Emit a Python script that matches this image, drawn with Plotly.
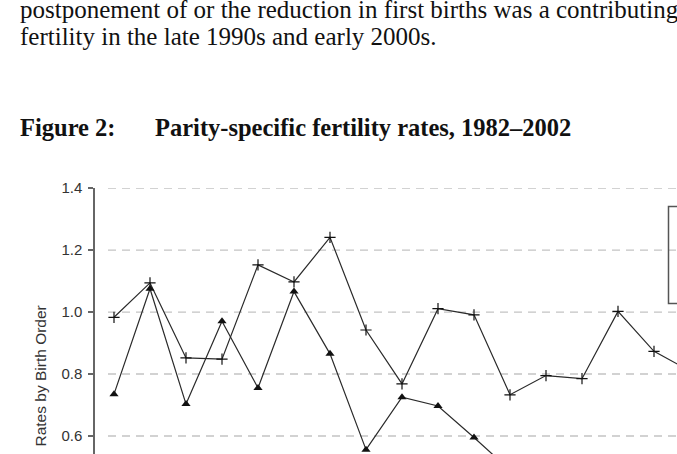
import plotly.graph_objects as go

# ---- data ----
years_first = list(range(1982, 1999))
first_births = [0.983, 1.094, 0.852, 0.848, 1.152, 1.097, 1.241, 0.942, 0.768,
                1.011, 0.991, 0.733, 0.795, 0.785, 1.002, 0.873, 0.81]
years_second = list(range(1982, 1994))
second_births = [0.735, 1.075, 0.703, 0.970, 0.755, 1.066, 0.865, 0.556, 0.725,
                 0.697, 0.595, 0.49]
y_ticks = [0.6, 0.8, 1.0, 1.2, 1.4]
y_tick_labels = ["0.6", "0.8", "1.0", "1.2", "1.4"]

body_line1 = "postponement of or the reduction in first births was a contributing"
body_line2 = "fertility in the late 1990s and early 2000s."
fig_label = "Figure 2:"
fig_title = "Parity-specific fertility rates, 1982–2002"
y_title = "Rates by Birth Order"

# ---- layout geometry (pixels) ----
W, H = 677, 454
L, T = 95, 188
PW, PH = W - L, H - T


def px_x(px):
    return (px - L) / PW


def px_y(py):
    return (H - py) / PH


fig = go.Figure()

line_col = "#2a2a2a"
fig.add_trace(go.Scatter(
    x=years_first, y=first_births, mode="lines+markers", name="First births",
    line=dict(color=line_col, width=1.2),
    marker=dict(symbol="cross-thin", size=8, line=dict(color="#111", width=1.2)),
    showlegend=False,
))
fig.add_trace(go.Scatter(
    x=years_second, y=second_births, mode="lines+markers", name="Second births",
    line=dict(color=line_col, width=1.2),
    marker=dict(symbol="triangle-up", size=8, color="#111"),
    showlegend=False,
))

# dashed gridlines starting a little right of the axis
shapes = []
for v in y_ticks:
    shapes.append(dict(type="line", xref="paper", yref="y", x0=px_x(108), x1=1.0,
                       y0=v, y1=v, line=dict(color="#c4c4c4", width=1.3, dash="8px,6px"),
                       layer="below"))
# legend frame (only its left part is in view)
shapes.append(dict(type="rect", xref="paper", yref="paper",
                   x0=px_x(668.5), x1=1.3, y0=px_y(303.5), y1=px_y(206.5),
                   line=dict(color="#555", width=1.5), fillcolor="rgba(0,0,0,0)"))

serif = "Liberation Serif, Times New Roman, serif"
ann = [
    dict(text=body_line1, x=px_x(18), y=px_y(9), xanchor="left", yanchor="middle",
         font=dict(family=serif, size=25, color="#111")),
    dict(text=body_line2, x=px_x(18), y=px_y(36), xanchor="left", yanchor="middle",
         font=dict(family=serif, size=25, color="#111")),
    dict(text="<b>" + fig_label + "</b>", x=px_x(18), y=px_y(127), xanchor="left",
         yanchor="middle", font=dict(family=serif, size=24.5, color="#111")),
    dict(text="<b>" + fig_title + "</b>", x=px_x(153), y=px_y(127), xanchor="left",
         yanchor="middle", font=dict(family=serif, size=24.5, color="#111")),
    dict(text=y_title, x=px_x(40), y=px_y(376.5), xanchor="center", yanchor="middle",
         textangle=-90, font=dict(family="Liberation Sans, Arial, sans-serif", size=15.5,
                                  color="#333")),
]
for a in ann:
    a.update(xref="paper", yref="paper", showarrow=False)

fig.update_layout(
    width=W, height=H,
    margin=dict(l=L, r=0, t=T, b=0, pad=0),
    paper_bgcolor="white", plot_bgcolor="white",
    shapes=shapes, annotations=ann,
    xaxis=dict(range=[1982 - 19 / 36, 1982 + (W - 114) / 36], visible=False,
               showgrid=False, zeroline=False),
    yaxis=dict(range=[1.4 - PH / 310, 1.4002], tickvals=y_ticks, ticktext=y_tick_labels,
               showgrid=False, zeroline=False, showline=True, linecolor="#666",
               linewidth=1.5, ticks="outside", ticklen=5, tickcolor="#666", tickwidth=1.5,
               tickfont=dict(family="Liberation Sans, Arial, sans-serif", size=15,
                             color="#333"),
               automargin=False, ticklabelstandoff=3),
)

fig.write_html("out.html")
